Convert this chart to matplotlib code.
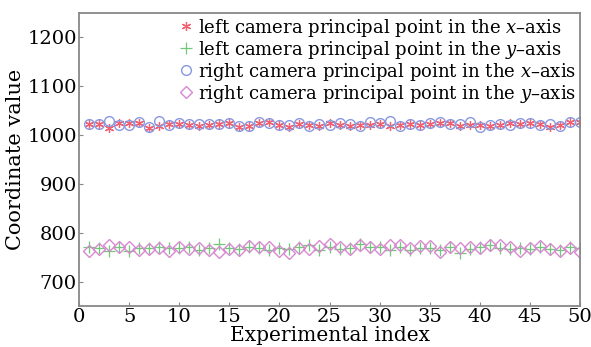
import matplotlib
matplotlib.use('Agg')
import matplotlib.pyplot as plt
import numpy as np

# Experimental index 1..50
index = np.arange(1, 51)

left_x = [1022, 1022, 1015, 1024, 1025, 1025, 1014, 1018, 1022, 1023,
          1020, 1018, 1020, 1022, 1024, 1016, 1018, 1024, 1026, 1020,
          1016, 1022, 1020, 1019, 1024, 1020, 1018, 1021, 1020, 1022,
          1018, 1020, 1022, 1020, 1022, 1024, 1024, 1018, 1020, 1020,
          1018, 1020, 1024, 1022, 1024, 1022, 1016, 1020, 1026, 1026]
left_y = [770, 768, 762, 770, 762, 768, 768, 770, 768, 768,
          770, 764, 768, 776, 768, 766, 770, 768, 764, 768,
          766, 770, 774, 764, 770, 766, 768, 776, 770, 770,
          764, 770, 764, 768, 768, 764, 770, 758, 766, 770,
          774, 768, 766, 768, 766, 770, 766, 764, 770, 768]
right_x = [1022, 1022, 1028, 1020, 1020, 1026, 1016, 1028, 1020, 1024,
           1022, 1022, 1022, 1022, 1024, 1018, 1018, 1026, 1024, 1020,
           1020, 1024, 1018, 1022, 1020, 1024, 1022, 1018, 1026, 1024,
           1028, 1018, 1022, 1020, 1024, 1026, 1022, 1022, 1026, 1016,
           1020, 1022, 1020, 1024, 1024, 1020, 1022, 1018, 1026, 1026]
right_y = [762, 766, 774, 770, 770, 764, 766, 768, 762, 770,
           766, 768, 764, 760, 766, 764, 772, 770, 770, 762,
           758, 768, 766, 772, 776, 770, 766, 774, 770, 766,
           774, 774, 768, 772, 772, 760, 770, 768, 770, 768,
           774, 774, 770, 762, 768, 772, 766, 762, 768, 760]

labels = ['left camera principal point in the $x$\u2013axis',
          'left camera principal point in the $y$\u2013axis',
          'right camera principal point in the $x$\u2013axis',
          'right camera principal point in the $y$\u2013axis']

plt.rcParams['font.family'] = 'DejaVu Serif'
plt.rcParams['mathtext.fontset'] = 'dejavuserif'

fig = plt.figure(figsize=(5.91, 3.47), dpi=100)
ax = fig.add_axes([0.1337, 0.1182, 0.8477, 0.8443])

ax.plot(index, left_x, linestyle='none', marker=(6, 2, 0), markersize=6.5,
        color='#f06070', mew=0.9, label=labels[0])
ax.plot(index, left_y, linestyle='none', marker='+', markersize=9,
        color='#70c878', mew=0.9, label=labels[1])
ax.plot(index, right_x, linestyle='none', marker='o', markersize=7,
        mfc='none', mec='#8898e0', mew=1.0, label=labels[2])
ax.plot(index, right_y, linestyle='none', marker='D', markersize=6.5,
        mfc='none', mec='#d888d0', mew=1.0, label=labels[3])

ax.set_xlim(0, 50)
ax.set_ylim(650, 1250)
ax.set_xticks(range(0, 51, 5))
ax.set_yticks([700, 800, 900, 1000, 1100, 1200])
ax.tick_params(direction='in', length=3, color='#888888', labelsize=14, pad=1.5)
for s in ax.spines.values():
    s.set_color('#888888')
    s.set_linewidth(1.3)

ax.set_xlabel('Experimental index', fontsize=14.5, labelpad=0)
ax.set_ylabel('Coordinate value', fontsize=15, labelpad=2)

ax.legend(loc='upper right', frameon=False, fontsize=13, handlelength=0.8,
          handletextpad=0.3, labelspacing=0.0, borderaxespad=0.1,
          borderpad=0.1)

fig.savefig('out.png', dpi=100)
